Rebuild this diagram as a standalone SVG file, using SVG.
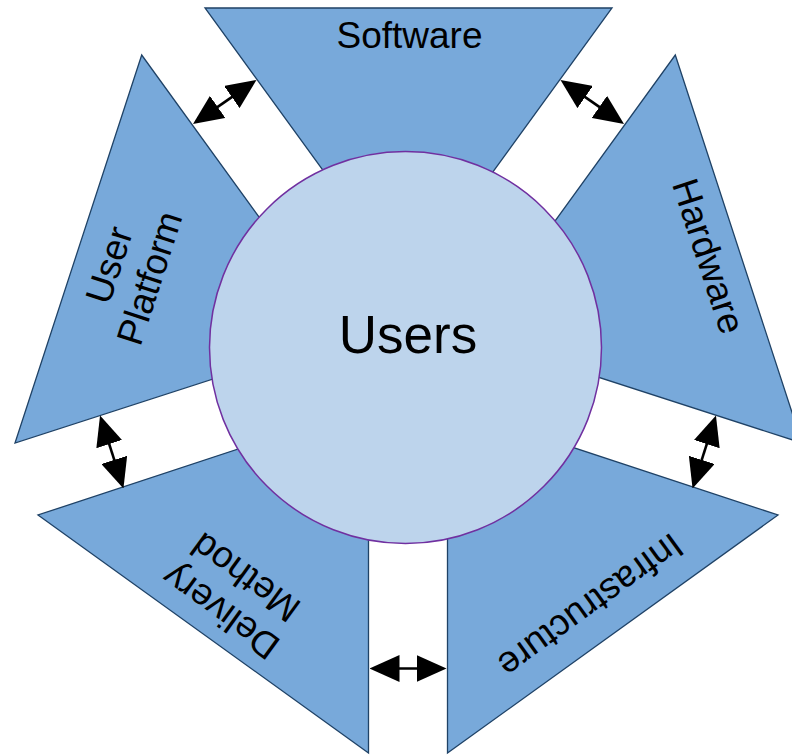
<svg xmlns="http://www.w3.org/2000/svg" width="792" height="755" viewBox="0 0 792 755">
<defs>
<style>
.seg{fill:#78A9DA;stroke:#1F4266;stroke-width:1.3}
.hub{fill:#BDD4EC;stroke:#7030A0;stroke-width:1.5}
.lbl{font-family:"Liberation Sans",Arial,sans-serif;font-size:37px;fill:#000;text-anchor:middle}
.big{font-size:53px}
.arr{stroke:#000;stroke-width:2.6;fill:none;marker-start:url(#ah);marker-end:url(#ah)}
</style>
<marker id="ah" markerUnits="userSpaceOnUse" markerWidth="30" markerHeight="27" refX="21" refY="13.5" orient="auto-start-reverse" viewBox="0 0 30 27">
<path d="M0,0 L30,13.5 L0,27 Z" fill="#000"/>
</marker>
</defs>
<rect width="792" height="755" fill="#fff"/>
<g id="software">
<polygon class="seg" points="205,8 612,8 408.5,288"/>
<text class="lbl" x="409.5" y="48.3">Software</text>
</g>
<g id="hardware">
<polygon class="seg" points="675.3,55 802,443 471.6,336.2"/>
<text class="lbl" transform="translate(709,256) rotate(72)" x="0" y="13">Hardware</text>
</g>
<g id="infrastructure">
<polygon class="seg" points="778,515 447.5,753 447.5,406"/>
<text class="lbl" transform="translate(591,606) rotate(144)" x="0" y="13">Infrastructure</text>
</g>
<g id="delivery-method">
<polygon class="seg" points="38,515 368.5,753 368.5,406"/>
<text class="lbl" transform="translate(233,595) rotate(216)"><tspan x="0" y="-8.25">Delivery</tspan><tspan x="0" y="34.25">Method</tspan></text>
</g>
<g id="user-platform">
<polygon class="seg" points="141.7,55 15,443 345.4,336.2"/>
<text class="lbl" transform="translate(129,271.5) rotate(-72)"><tspan x="0" y="-8.25">User</tspan><tspan x="0" y="34.25">Platform</tspan></text>
</g>
<g id="connectors">
<line class="arr" x1="200.4" y1="118.9" x2="249.1" y2="85.1"/>
<line class="arr" x1="616.6" y1="118.9" x2="567.9" y2="85.1"/>
<line class="arr" x1="102.8" y1="424.1" x2="120.7" y2="479.9"/>
<line class="arr" x1="713.2" y1="424.1" x2="695.3" y2="479.9"/>
<line class="arr" x1="378.5" y1="668.5" x2="437.5" y2="668.5"/>
</g>
<g id="users">
<circle class="hub" cx="405.5" cy="347.5" r="196"/>
<text class="lbl big" x="408" y="353">Users</text>
</g>
</svg>
